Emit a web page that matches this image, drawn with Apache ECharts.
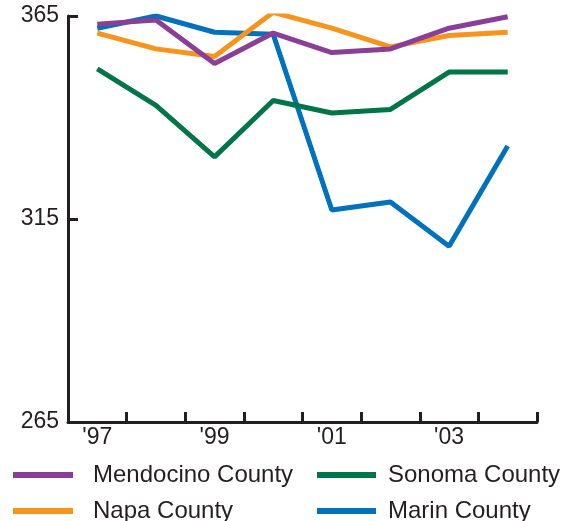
<!DOCTYPE html>
<html>
<head>
<meta charset="utf-8">
<script src="https://cdn.jsdelivr.net/npm/echarts@6/dist/echarts.min.js"></script>
<style>
  html, body { margin: 0; padding: 0; background: #fff; }
  #chart { width: 574px; height: 521px; }
</style>
</head>
<body>
<div id="chart"></div>
<script>
const years = ["'97", "'98", "'99", "'00", "'01", "'02", "'03", "'04"];
const yTicks = [265, 315, 365];

const mendocino = [363, 364, 353.3, 360.8, 356, 356.9, 362, 364.8];
const napa = [360.8, 356.9, 355, 365.9, 362, 357.4, 360.2, 361];
const sonoma = [352, 343, 330.3, 344.2, 341.1, 342, 351.2, 351.2];
const marin = [362, 365, 361, 360.5, 317.2, 319.2, 308.3, 333];

const ink = "#231f20";
const font = "Liberation Sans";

const line = (name, data, color) => ({
  name: name,
  type: "line",
  data: data,
  symbol: "none",
  lineStyle: { width: 5, color: color },
  itemStyle: { color: color },
  animation: false,
});

const legendText = (pad) => ({
  color: ink,
  fontSize: 24,
  fontFamily: font,
  lineHeight: 22,
  padding: [0, 0, 0, pad],
});

const option = {
  backgroundColor: "#fff",
  grid: { left: 68, right: 37, top: 16, bottom: 99 },
  legend: [
    {
      orient: "vertical",
      icon: "rect",
      itemWidth: 60,
      itemHeight: 6,
      itemGap: 12,
      padding: 0,
      left: 13,
      top: 463,
      width: 260,
      height: 120,
      textStyle: legendText(15),
      data: ["Mendocino County", "Napa County"],
    },
    {
      orient: "vertical",
      icon: "rect",
      itemWidth: 59,
      itemHeight: 6,
      itemGap: 12,
      padding: 0,
      left: 317,
      top: 463,
      width: 250,
      height: 120,
      textStyle: legendText(7),
      data: ["Sonoma County", "Marin County"],
    },
  ],
  xAxis: {
    type: "category",
    data: years,
    boundaryGap: true,
    axisLine: { lineStyle: { color: ink, width: 3 } },
    axisTick: {
      show: true,
      inside: true,
      length: 10,
      interval: 0,
      alignWithLabel: false,
      lineStyle: { color: ink, width: 3 },
    },
    axisLabel: {
      interval: 1,
      color: ink,
      fontSize: 23,
      fontFamily: font,
      margin: 4,
    },
    splitLine: { show: false },
  },
  yAxis: {
    type: "value",
    min: 265,
    max: 365,
    axisLine: { show: true, lineStyle: { color: ink, width: 3 } },
    axisTick: {
      show: true,
      inside: true,
      length: 10,
      customValues: yTicks,
      lineStyle: { color: ink, width: 3 },
    },
    axisLabel: {
      customValues: yTicks,
      color: ink,
      fontSize: 23,
      fontFamily: font,
      margin: 9,
    },
    splitLine: { show: false },
  },
  series: [
    line("Marin County", marin, "#0071bc"),
    line("Napa County", napa, "#f7941e"),
    line("Sonoma County", sonoma, "#00754a"),
    line("Mendocino County", mendocino, "#8a3f97"),
  ],
};

const myChart = echarts.init(document.getElementById("chart"));
myChart.setOption(option);
</script>
</body>
</html>
